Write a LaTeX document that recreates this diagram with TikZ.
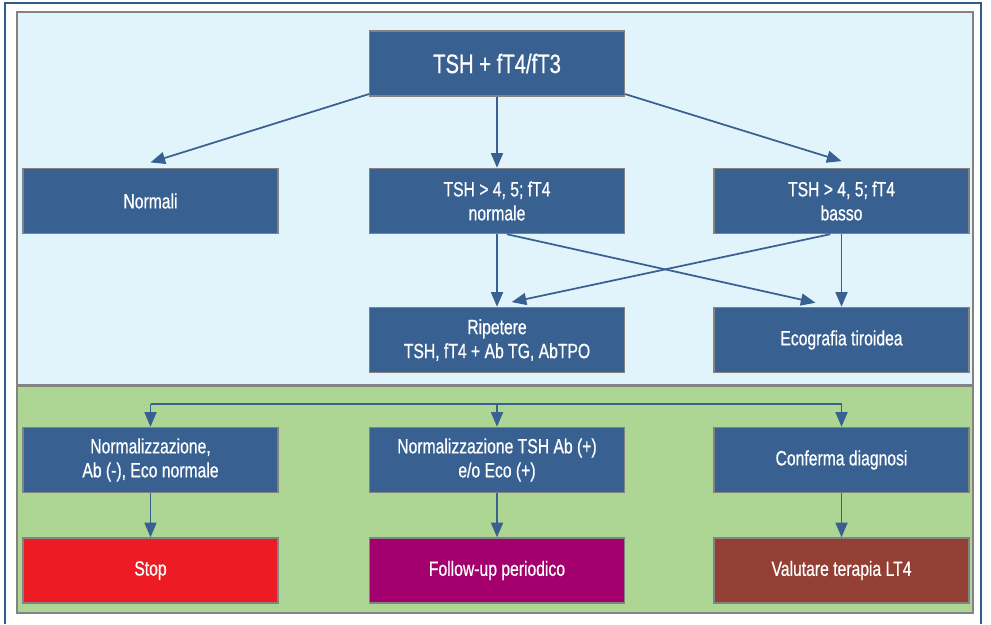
\documentclass[tikz,border=0pt]{standalone}
\usepackage{fontspec}
\setmainfont{Liberation Sans}[FakeStretch=0.76, FakeBold=0.6]
\usepackage{xcolor}
\usetikzlibrary{arrows.meta}

\definecolor{boxblue}{HTML}{386192}
\definecolor{boxedge}{HTML}{838383}
\definecolor{framblue}{HTML}{2F5E8E}
\definecolor{skypanel}{HTML}{E1F3FB}
\definecolor{greenpanel}{HTML}{ADD593}
\definecolor{stopred}{HTML}{ED1C24}
\definecolor{fupurple}{HTML}{A3006E}
\definecolor{lt4brown}{HTML}{933F34}

\begin{document}
\begin{tikzpicture}[
  x=0.75pt, y=-0.75pt,
  >={Triangle[length=11pt,width=9pt]},
  box/.style={draw=boxedge, line width=1.1pt, fill=boxblue, text=white,
              minimum width=191pt, minimum height=48.75pt,
              align=center, inner sep=2pt,
              font=\fontsize{15.5}{18}\selectfont},
  arr/.style={->, line width=1.3pt, draw=boxblue, fill=boxblue},
  bus/.style={line width=1.3pt, draw=boxblue},
  panel/.style={draw=boxedge, line width=1.1pt},
  stopbox/.style={box, fill=stopred},
  fubox/.style  ={box, fill=fupurple},
  lt4box/.style ={box, fill=lt4brown},
]
\useasboundingbox (0,0) rectangle (991,624);

% ---- frame and panels ----
\draw[framblue, line width=0.9pt] (5,624) -- (5,3) -- (981,3) -- (981,624);
\draw[panel, fill=skypanel]   (17,12)  rectangle (973,385);
\draw[panel, fill=greenpanel] (17,386) rectangle (973,613);

% ---- first test ----
\node[box, font=\fontsize{20}{24}\selectfont] (tsh) at (497,63.5) {TSH + fT4/fT3};

% ---- results ----
\node[box] (normali) at (150.5,201) {Normali};
\node[box] (normale) at (497,201)   {TSH > 4, 5; fT4\\normale};
\node[box] (basso)   at (841.5,201) {TSH > 4, 5; fT4\\basso};

% ---- second step ----
\node[box] (ripetere) at (497,340)   {Ripetere\\TSH, fT4 + Ab TG, AbTPO};
\node[box] (eco)      at (841.5,340) {Ecografia tiroidea};

% ---- outcomes ----
\node[box] (nzneg) at (150.5,460) {Normalizzazione,\\Ab (-), Eco normale};
\node[box] (nzpos) at (497,460)   {Normalizzazione TSH Ab (+)\\e/o Eco (+)};
\node[box] (conf)  at (841.5,460) {Conferma diagnosi};

% ---- actions ----
\node[stopbox] (stop) at (150.5,570.5) {Stop};
\node[fubox]   (fu)   at (497,570.5)   {Follow-up periodico};
\node[lt4box]  (lt4)  at (841.5,570.5) {Valutare terapia LT4};

% ---- arrows, top panel ----
\draw[arr] ([yshift=2pt]tsh.south west) -- ([yshift=4pt]normali.north);
\draw[arr] (tsh) -- (normale);
\draw[arr] ([yshift=2pt]tsh.south east) -- ([yshift=5pt]basso.north);
\draw[arr] (normale) -- (ripetere);
\draw[arr] (basso) -- (eco);
\draw[arr] ([xshift=7.5pt]normale.south) -- ([xshift=-19.5pt,yshift=3pt]eco.north);
\draw[arr] ([xshift=-8.5pt]basso.south) -- ([xshift=11pt,yshift=3.5pt]ripetere.north);

% ---- arrows, green panel ----
\coordinate (busL) at (150.5,404);
\coordinate (busM) at (497,404);
\coordinate (busR) at (841.5,404);
\draw[bus] (busL) -- (busR);
\draw[arr] (busL) -- (nzneg);
\draw[arr] (busM) -- (nzpos);
\draw[arr] (busR) -- (conf);
\draw[arr] (nzneg) -- (stop);
\draw[arr] (nzpos) -- (fu);
\draw[arr] (conf)  -- (lt4);

\end{tikzpicture}
\end{document}
